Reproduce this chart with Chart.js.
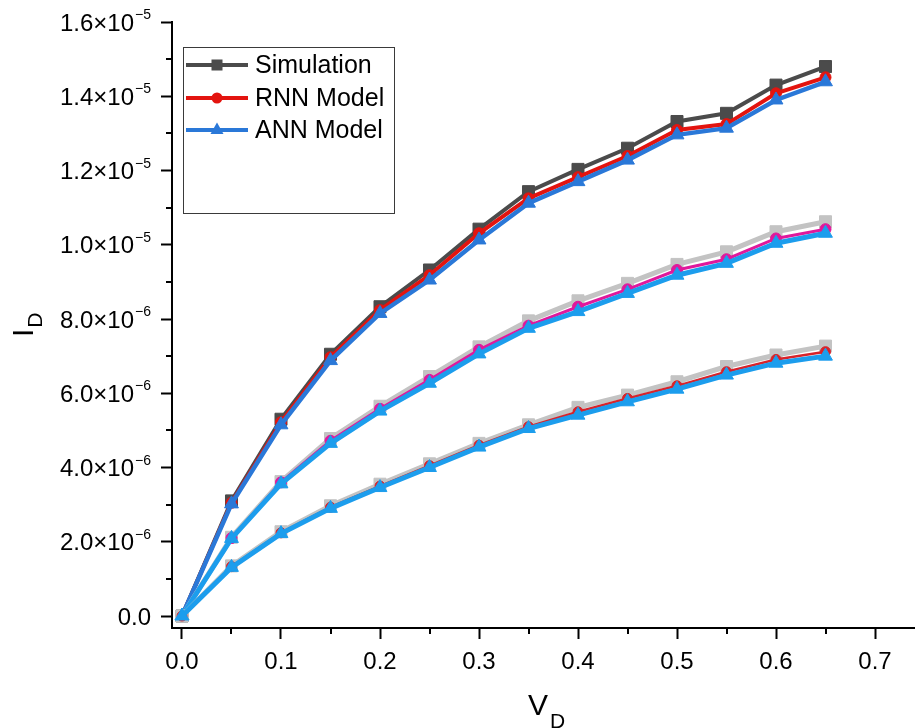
<!DOCTYPE html>
<html>
<head>
<meta charset="utf-8">
<script src="https://cdn.jsdelivr.net/npm/chart.js@4/dist/chart.umd.min.js"></script>
<style>
  html, body { margin: 0; padding: 0; background: #ffffff; }
  #wrap { width: 915px; height: 728px; position: relative; }
</style>
</head>
<body>
<div id="wrap"><canvas id="c" width="915" height="728"></canvas></div>
<script>
// ---- data ----
const vd = [0, 0.05, 0.10, 0.15, 0.20, 0.25, 0.30, 0.35, 0.40, 0.45, 0.50, 0.55, 0.60, 0.65];

// values in units of 1e-6 A
const simHigh = [0, 3.10, 5.30, 7.05, 8.33, 9.32, 10.42, 11.43, 12.03, 12.60, 13.32, 13.54, 14.30, 14.80];
const rnnHigh = [0, 3.05, 5.22, 6.97, 8.24, 9.18, 10.31, 11.25, 11.82, 12.39, 13.09, 13.25, 14.08, 14.51];
const annHigh = [0, 3.02, 5.15, 6.88, 8.15, 9.05, 10.13, 11.12, 11.70, 12.28, 12.96, 13.14, 13.90, 14.39];

const simMid = [0, 2.12, 3.62, 4.78, 5.65, 6.45, 7.25, 7.95, 8.49, 8.96, 9.47, 9.81, 10.35, 10.62];
const rnnMid = [0, 2.10, 3.60, 4.72, 5.58, 6.36, 7.17, 7.82, 8.33, 8.80, 9.32, 9.61, 10.17, 10.42];
const annMid = [0, 2.09, 3.56, 4.65, 5.52, 6.27, 7.06, 7.75, 8.20, 8.69, 9.18, 9.50, 10.04, 10.31];

const simLow = [0, 1.35, 2.27, 2.97, 3.55, 4.10, 4.65, 5.15, 5.62, 5.95, 6.31, 6.72, 7.03, 7.27];
const rnnLow = [0, 1.33, 2.24, 2.93, 3.50, 4.05, 4.60, 5.10, 5.50, 5.86, 6.20, 6.58, 6.91, 7.12];
const annLow = [0, 1.31, 2.22, 2.90, 3.46, 4.00, 4.55, 5.05, 5.41, 5.77, 6.11, 6.49, 6.81, 7.00];

const yMajorTicks = [0, 2e-6, 4e-6, 6e-6, 8e-6, 1e-5, 1.2e-5, 1.4e-5, 1.6e-5];
const yTickMantissa = ["0.0", "2.0×10", "4.0×10", "6.0×10", "8.0×10", "1.0×10", "1.2×10", "1.4×10", "1.6×10"];
const yTickExponent = ["", "−6", "−6", "−6", "−6", "−5", "−5", "−5", "−5"];
const xMajorTicks = [0, 0.1, 0.2, 0.3, 0.4, 0.5, 0.6, 0.7];
const xTickLabels = ["0.0", "0.1", "0.2", "0.3", "0.4", "0.5", "0.6", "0.7"];

const legendNames = ["Simulation", "RNN Model", "ANN Model"];
const xTitle = ["V", "D"];
const yTitle = ["I", "D"];

// ---- helpers ----
const SCALE = 1e-6;
function pts(arr) { return arr.map((v, i) => ({ x: vd[i], y: v * SCALE })); }

const FONT = "'Liberation Sans', Arial, sans-serif";

function series(label, arr, color, style, radius, lw, order) {
  return {
    label: label,
    data: pts(arr),
    borderColor: color,
    backgroundColor: color,
    pointBackgroundColor: color,
    pointBorderColor: color,
    pointBorderWidth: 1,
    pointStyle: style,
    pointRadius: radius,
    pointHoverRadius: radius,
    borderWidth: lw,
    tension: 0,
    order: order
  };
}

const C = {
  simDark: '#4b4b4b', red: '#e3140f', blueDark: '#2a78d8',
  simLight: '#c3c3c3', magenta: '#e0189c', blueLight: '#1c9ded', redLow: '#d8232a'
};

const datasets = [
  series(legendNames[0], simHigh, C.simDark, 'rect', 8.5, 4, 9),
  series(legendNames[1], rnnHigh, C.red, 'circle', 5.5, 4, 8),
  series(legendNames[2], annHigh, C.blueDark, 'triangle', 8, 4.5, 7),
  series('Simulation (2)', simMid, C.simLight, 'rect', 8.5, 5, 6),
  series('RNN Model (2)', rnnMid, C.magenta, 'circle', 5.5, 3, 5),
  series('ANN Model (2)', annMid, C.blueLight, 'triangle', 8, 5, 4),
  series('Simulation (3)', simLow, C.simLight, 'rect', 8.5, 5, 3),
  series('RNN Model (3)', rnnLow, C.redLow, 'circle', 5, 2.5, 2),
  series('ANN Model (3)', annLow, C.blueLight, 'triangle', 8, 5, 1)
];

// ---- plugin: y labels, minor ticks, axis titles, legend ----
const extras = {
  id: 'extras',
  afterDraw(chart) {
    const ctx = chart.ctx;
    const xs = chart.scales.x, ys = chart.scales.y;
    const area = chart.chartArea;
    ctx.save();
    // minor ticks
    ctx.strokeStyle = '#000'; ctx.lineWidth = 2;
    for (let i = 0; i < xMajorTicks.length; i++) {
      const v = (xMajorTicks[i] + (xMajorTicks[i + 1] !== undefined ? xMajorTicks[i + 1] : xMajorTicks[i] + 0.1)) / 2;
      if (v > xs.max) break;
      const px = Math.round(xs.getPixelForValue(v));
      ctx.beginPath(); ctx.moveTo(px, area.bottom); ctx.lineTo(px, area.bottom + 6); ctx.stroke();
    }
    for (let i = 0; i < yMajorTicks.length - 1; i++) {
      const v = (yMajorTicks[i] + yMajorTicks[i + 1]) / 2;
      const py = Math.round(ys.getPixelForValue(v));
      ctx.beginPath(); ctx.moveTo(area.left, py); ctx.lineTo(area.left - 6, py); ctx.stroke();
    }
    // y tick labels with superscript exponent
    ctx.fillStyle = '#000';
    ctx.textBaseline = 'alphabetic';
    const rightEdge = 151;
    for (let i = 0; i < yMajorTicks.length; i++) {
      const py = ys.getPixelForValue(yMajorTicks[i]);
      ctx.font = '14px ' + FONT;
      const eW = yTickExponent[i] ? ctx.measureText(yTickExponent[i]).width : 0;
      ctx.font = '24px ' + FONT;
      const mW = ctx.measureText(yTickMantissa[i]).width;
      const x0 = rightEdge - eW - mW - (eW ? 1 : 0);
      ctx.textAlign = 'left';
      ctx.fillText(yTickMantissa[i], x0, py + 8.5);
      if (yTickExponent[i]) {
        ctx.font = '14px ' + FONT;
        ctx.fillText(yTickExponent[i], x0 + mW + 1, py - 3);
      }
    }
    // x title
    ctx.textAlign = 'left';
    ctx.font = '30px ' + FONT;
    const vW = ctx.measureText(xTitle[0]).width;
    const cx = 528;
    ctx.fillText(xTitle[0], cx, 715);
    ctx.font = '21px ' + FONT;
    ctx.fillText(xTitle[1], cx + vW + 2, 728);
    // y title (rotated)
    ctx.save();
    ctx.translate(33, 337);
    ctx.rotate(-Math.PI / 2);
    ctx.font = '30px ' + FONT;
    const iW = ctx.measureText(yTitle[0]).width;
    ctx.fillText(yTitle[0], 0, 0);
    ctx.font = '21px ' + FONT;
    ctx.fillText(yTitle[1], iW + 1, 9);
    ctx.restore();
    // legend box
    ctx.lineWidth = 1;
    ctx.strokeStyle = '#3a3a3a';
    ctx.strokeRect(183.5, 47.5, 211, 166);
    const rows = [65, 98, 130];
    for (let i = 0; i < 3; i++) {
      const ds = chart.data.datasets[i];
      const y = rows[i];
      ctx.strokeStyle = ds.borderColor;
      ctx.lineWidth = 4;
      ctx.beginPath(); ctx.moveTo(186, y); ctx.lineTo(248, y); ctx.stroke();
      ctx.fillStyle = ds.borderColor;
      const mx = 217;
      if (ds.pointStyle === 'rect') {
        ctx.fillRect(mx - 5.5, y - 5.5, 11, 11);
      } else if (ds.pointStyle === 'circle') {
        ctx.beginPath(); ctx.arc(mx, y, 5.5, 0, Math.PI * 2); ctx.fill();
      } else {
        ctx.beginPath(); ctx.moveTo(mx, y - 7.5); ctx.lineTo(mx + 6.5, y + 4); ctx.lineTo(mx - 6.5, y + 4); ctx.closePath(); ctx.fill();
      }
      ctx.fillStyle = '#000';
      ctx.font = '25px ' + FONT;
      ctx.textBaseline = 'middle';
      ctx.fillText(ds.label, 255, y + 1);
      ctx.textBaseline = 'alphabetic';
    }
    ctx.restore();
  }
};

new Chart(document.getElementById('c'), {
  type: 'line',
  data: { datasets: datasets },
  options: {
    responsive: false,
    animation: false,
    events: [],
    layout: { autoPadding: false, padding: { top: 22, right: 0, left: 0, bottom: 0 } },
    plugins: { legend: { display: false }, tooltip: { enabled: false }, title: { display: false } },
    scales: {
      x: {
        type: 'linear',
        min: -0.0101,
        max: 0.7404,
        afterBuildTicks: (s) => { s.ticks = xMajorTicks.map(v => ({ value: v })); },
        afterFit: (s) => { s.height = 100; s.paddingLeft = 0; s.paddingRight = 0; },
        ticks: {
          callback: (v, i) => xTickLabels[i],
          color: '#000',
          font: { family: FONT, size: 24 },
          padding: 9,
          maxRotation: 0,
          autoSkip: false
        },
        grid: { display: true, drawOnChartArea: false, drawTicks: true, tickLength: 11, tickColor: '#000', tickWidth: 2 },
        border: { display: true, color: '#000', width: 2 }
      },
      y: {
        type: 'linear',
        min: -3.23e-7,
        max: 1.6e-5,
        afterBuildTicks: (s) => { s.ticks = yMajorTicks.map(v => ({ value: v })); },
        afterFit: (s) => { s.width = 172; s.paddingTop = 0; s.paddingBottom = 0; },
        ticks: { display: false },
        grid: { display: true, drawOnChartArea: false, drawTicks: true, tickLength: 11, tickColor: '#000', tickWidth: 2 },
        border: { display: true, color: '#000', width: 2 }
      }
    }
  },
  plugins: [extras]
});
</script>
</body>
</html>
